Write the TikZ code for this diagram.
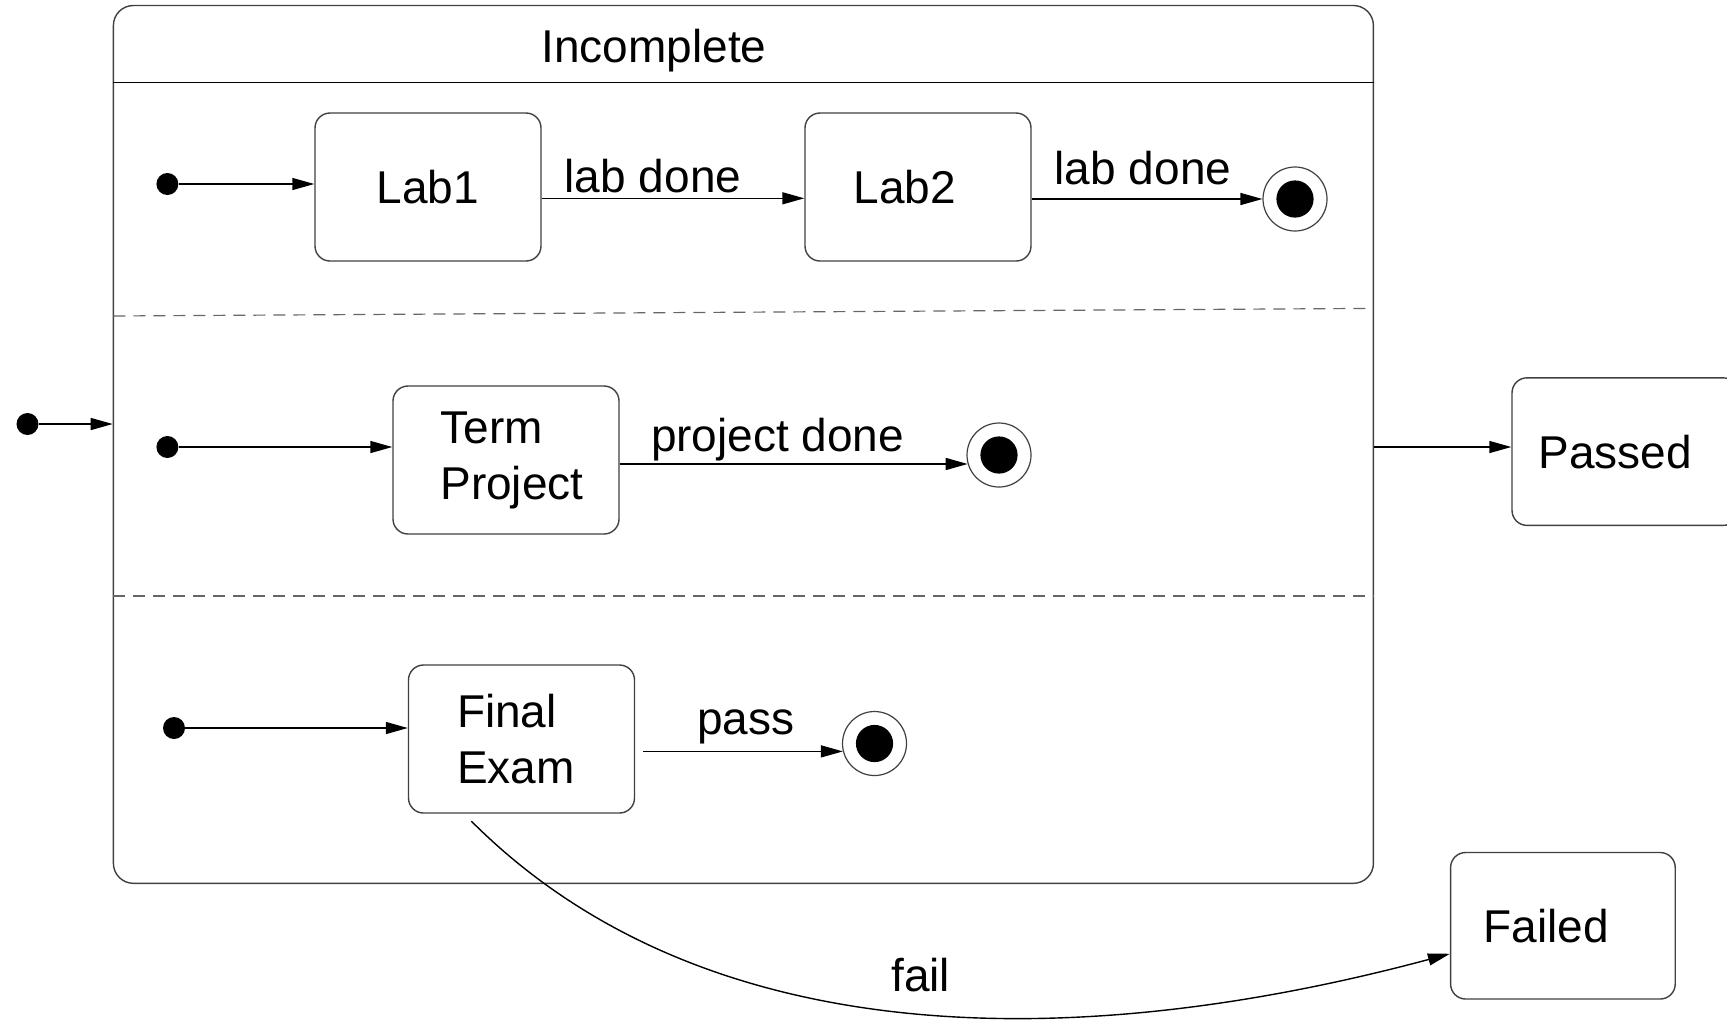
\documentclass[tikz,border=0pt]{standalone}
\usepackage{fontspec}
\setmainfont{Liberation Sans}
\usetikzlibrary{arrows.meta,calc}
\begin{document}
\begin{tikzpicture}[x=0.5pt,y=-0.5pt,
  every node/.style={font=\fontsize{23}{28}\selectfont},
  box/.style={draw=black!75, line width=0.7pt, rounded corners=7.5pt, minimum width=113pt, minimum height=74pt, inner sep=0pt, align=left},
  initdot/.style={circle, fill=black, minimum size=11pt, inner sep=0pt},
  finalst/.style={circle, draw=black!75, line width=0.6pt, minimum size=32pt, inner sep=0pt, path picture={\fill[black] (path picture bounding box.center) circle (9.3pt);}},
  arr/.style={line width=0.7pt, -{Triangle[length=11pt,width=6pt]}},
  sepline/.style={draw=black!60, line width=0.6pt, dash pattern=on 6pt off 4pt}
]
\useasboundingbox (0,0) rectangle (1727,1019);

% composite state
\node[draw=black!75, line width=0.7pt, rounded corners=10pt, minimum width=630pt, minimum height=438.9pt, inner sep=0pt] (inc) at (743.4,444.4) {};
\coordinate (hl) at (0,82.6);
\draw[line width=0.8pt] (inc.west |- hl) -- (inc.east |- hl);
\node (title) at (654,50.7) {Incomplete};
\coordinate (d1a) at (113.4,316);
\coordinate (d1b) at (1373.4,308.4);
\draw[sepline] (d1a) -- (d1b);
\coordinate (d2) at (0,595.9);
\draw[sepline] (inc.west |- d2) -- (inc.east |- d2);

% region 1
\node[initdot] (i1) at (167.4,184) {};
\node[box] (lab1) at (428,187) {Lab1};
\node[box, text width=64.4pt, inner xsep=24.3pt] (lab2) at (918,187) {Lab2};
\node[finalst] (f1) at (1295,199) {};
\draw[arr] (i1) -- (i1 -| lab1.west);
\coordinate (a1) at ($(lab1.east)+(0,11.3)$);
\draw[arr] (a1) -- (a1 -| lab2.west);
\node (l1) at (653,176) {lab done};
\draw[arr] (lab2.east |- f1) -- (f1.west);
\node (l2) at (1143,168.5) {lab done};

% region 2
\node[initdot] (o) at (27.5,424) {};
\draw[arr] (o) -- (o -| inc.west);
\node[initdot] (i2) at (167.4,447) {};
\node[box, text width=65.6pt, inner xsep=23.7pt] (term) at (506,460) {Term\\Project};
\draw[arr] (i2) -- (i2 -| term.west);
\node[finalst] (f2) at (999,455) {};
\draw[arr] (term.east |- f2.196) -- (f2.196);
\node (l3) at (777.6,439.5) {project done};

\node[box, text width=86.4pt, inner xsep=13.3pt, minimum height=73.8pt] (passed) at (1625,451.6) {Passed};
\coordinate (pa) at ($(passed.west)+(0,-4.6)$);
\draw[arr] (inc.east |- pa) -- (pa);

% region 3
\node[initdot] (i3) at (174,728) {};
\node[box, text width=64.5pt, inner xsep=24.2pt] (fe) at (521.5,739) {Final\\Exam};
\draw[arr] (i3) -- (i3 -| fe.west);
\node[finalst] (f3) at (874.5,743.5) {};
\coordinate (p0a) at (fe.east |- f3.194);
\coordinate (p0) at ($(p0a)+(7.6,0)$);
\draw[arr] (p0) -- (f3.194);
\node (l4) at (745.6,727) {pass};

\node[box, text width=79.3pt, inner xsep=16.5pt, minimum width=112.3pt, minimum height=73.25pt] (failed) at (1562.9,925.75) {Failed};
\coordinate (fs) at ($(fe.south)+(-50.1,7.5)$);
\coordinate (fend) at ($(failed.west)+(0,28)$);
\draw[arr] (fs) .. controls +(242,242) and +(-350.6,94) .. (fend);
\node (l5) at (920.8,974.7) {fail};
\end{tikzpicture}
\end{document}
